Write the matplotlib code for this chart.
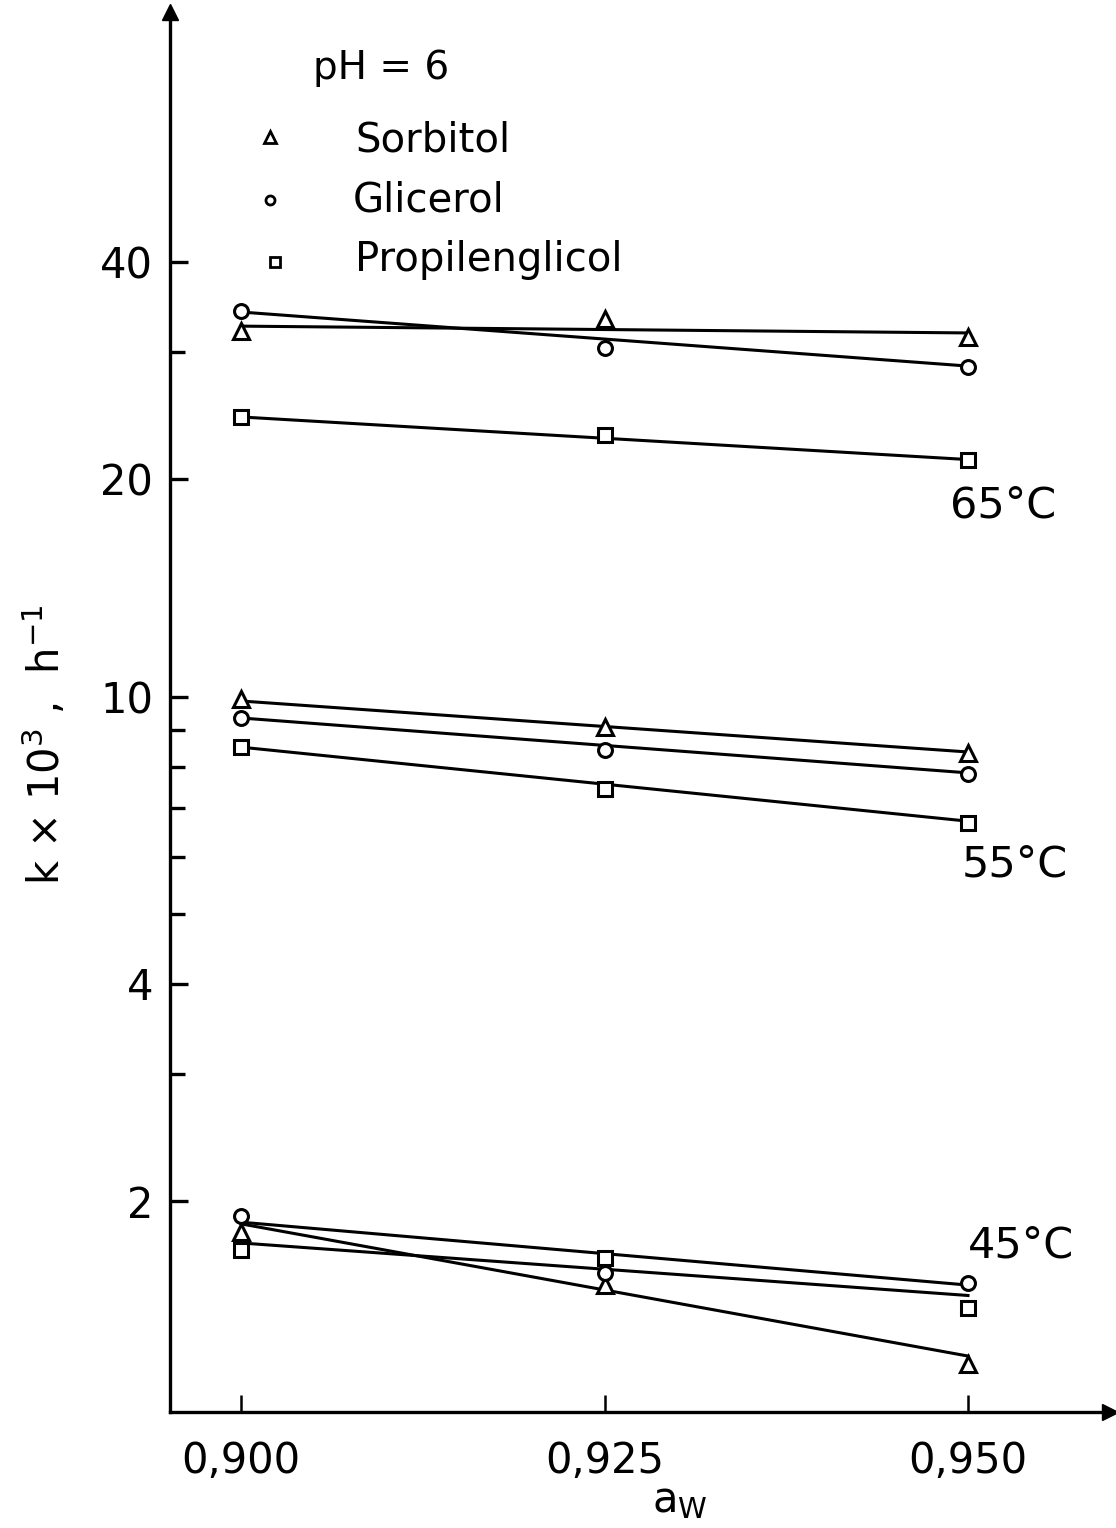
import matplotlib.pyplot as plt

# water activity
aw = [0.900, 0.925, 0.950]
aw_fit = [0.900, 0.950]

# k x 10^3 (h^-1)
sorbitol_65 = [32.1, 33.3, 31.5]
glicerol_65 = [34.2, 30.4, 28.6]
propilen_65 = [24.4, 23.0, 21.3]
sorbitol_55 = [9.92, 9.07, 8.35]
glicerol_55 = [9.34, 8.43, 7.81]
propilen_55 = [8.51, 7.45, 6.68]
sorbitol_45 = [1.81, 1.53, 1.19]
glicerol_45 = [1.91, 1.59, 1.54]
propilen_45 = [1.71, 1.67, 1.42]

# fitted lines (values at 0.900 and 0.950)
sorbitol_65_fit = [32.6, 31.9]
glicerol_65_fit = [34.1, 28.7]
propilen_65_fit = [24.4, 21.3]
sorbitol_55_fit = [9.86, 8.38]
glicerol_55_fit = [9.34, 7.84]
propilen_55_fit = [8.51, 6.72]
sorbitol_45_fit = [1.86, 1.22]
glicerol_45_fit = [1.87, 1.53]
propilen_45_fit = [1.75, 1.48]

major_ticks = [2, 4, 10, 20, 40]
minor_ticks = [3, 5, 6, 7, 8, 9, 30]
x_ticks = [0.900, 0.925, 0.950]
x_labels = ['0,900', '0,925', '0,950']

plt.rcParams['font.family'] = 'DejaVu Sans'

W, H = 1116, 1528
fig = plt.figure(figsize=(W / 100, H / 100), dpi=100)
ax = fig.add_axes([170 / W, 1 - 1412 / H, 940 / W, 1400 / H])
ax.set_yscale('log')


def fx(px):
    return px / W


def fy(py):
    return 1 - py / H


fits = [sorbitol_65_fit, glicerol_65_fit, propilen_65_fit,
        sorbitol_55_fit, glicerol_55_fit, propilen_55_fit,
        sorbitol_45_fit, glicerol_45_fit, propilen_45_fit]
for f in fits:
    ax.plot(aw_fit, f, color='k', lw=2.2, zorder=2)

series = [(sorbitol_65, '^', 12), (glicerol_65, 'o', 10), (propilen_65, 's', 10),
          (sorbitol_55, '^', 12), (glicerol_55, 'o', 10), (propilen_55, 's', 10),
          (sorbitol_45, '^', 12), (glicerol_45, 'o', 10), (propilen_45, 's', 10)]
for vals, m, ms in series:
    ax.plot(aw, vals, linestyle='none', marker=m, ms=ms, mfc='white',
            mec='k', mew=2.2, zorder=3)

ax.set_xlim(0.895117, 0.959766)
ax.set_ylim(1.0206, 88.8)

ax.spines['top'].set_visible(False)
ax.spines['right'].set_visible(False)
ax.spines['left'].set_linewidth(2.4)
ax.spines['bottom'].set_linewidth(2.4)

ax.set_yticks(major_ticks)
ax.set_yticklabels([str(t) for t in major_ticks])
ax.set_yticks(minor_ticks, minor=True)
ax.set_yticklabels([], minor=True)
ax.tick_params(axis='y', which='major', direction='in', length=13, width=2.4,
               labelsize=30, pad=12)
ax.tick_params(axis='y', which='minor', direction='in', length=11, width=2.4)

ax.set_xticks(x_ticks)
ax.set_xticklabels(x_labels)
ax.tick_params(axis='x', direction='in', length=12, width=1.8,
               labelsize=30, pad=20)

# axis arrows
ax.plot(0, 1, marker='^', color='k', ms=12, transform=ax.transAxes, clip_on=False)
ax.plot(1, 0, marker='>', color='k', ms=12, transform=ax.transAxes, clip_on=False)

# temperature labels
fig.text(fx(950), fy(505), '65°C', fontsize=31, va='center')
fig.text(fx(962), fy(865), '55°C', fontsize=31, va='center')
fig.text(fx(968), fy(1245), '45°C', fontsize=31, va='center')

# legend
fig.text(fx(313), fy(68), 'pH = 6', fontsize=28, va='center')
fig.lines.append(plt.Line2D([fx(270)], [fy(137)], marker='^', ms=8, mfc='white',
                            mec='k', mew=2.0, transform=fig.transFigure))
fig.lines.append(plt.Line2D([fx(270)], [fy(200)], marker='o', ms=6.5, mfc='white',
                            mec='k', mew=2.0, transform=fig.transFigure))
fig.lines.append(plt.Line2D([fx(275)], [fy(262)], marker='s', ms=6.5, mfc='white',
                            mec='k', mew=2.0, transform=fig.transFigure))
fig.text(fx(355), fy(140), 'Sorbitol', fontsize=29, va='center')
fig.text(fx(353), fy(200), 'Glicerol', fontsize=29, va='center')
fig.text(fx(355), fy(260), 'Propilenglicol', fontsize=29, va='center')

fig.text(fx(45), fy(745), 'k × 10$^3$ ,  h$^{-1}$', fontsize=30,
         rotation=90, ha='center', va='center')
fig.text(fx(680), fy(1500), 'a$_\\mathregular{W}$', fontsize=30,
         ha='center', va='center')

fig.savefig('out.png', dpi=100)
